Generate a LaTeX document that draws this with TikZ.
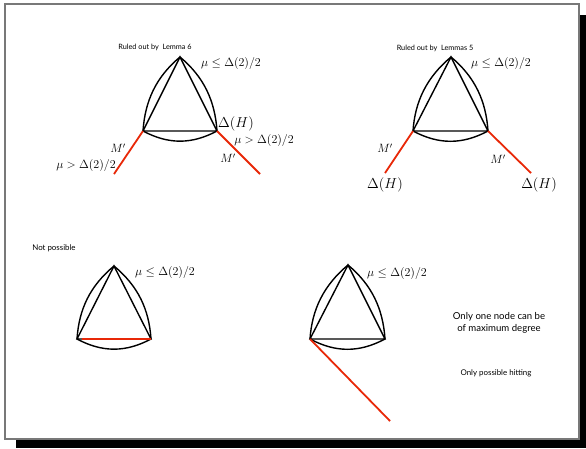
\documentclass[tikz,border=0pt]{standalone}
\usepackage{fontspec}
\newfontfamily\smallsans{Lato}
\definecolor{hitred}{RGB}{232,40,8}
\definecolor{framegray}{RGB}{120,120,120}
\begin{document}
\begin{tikzpicture}[x=1pt,y=-1pt,
  edge/.style={line width=1.4pt, black},
  bside/.style={edge, bend right=28},
  hit/.style={line width=1.8pt, hitred},
  mlab/.style={inner sep=0pt, font=\fontsize{12}{14}\selectfont},
  dlab/.style={inner sep=0pt, font=\fontsize{13.5}{15}\selectfont},
  title/.style={inner sep=0pt, font=\smallsans\fontsize{7.3}{8}\selectfont},
  note/.style={inner sep=0pt, font=\smallsans\fontsize{7.9}{9}\selectfont},
  bignote/.style={inner sep=0pt, align=center, font=\smallsans\fontsize{9.6}{12}\selectfont},
]
\useasboundingbox (0,0) rectangle (586,448);
\fill[black] (16,15) rectangle (586,448);
\filldraw[fill=white, draw=framegray, line width=1.1pt] (5,4) rectangle (579,439);

% ---------- top left ----------
\coordinate (a1) at (180,57);
\coordinate (l1) at (143,131);
\coordinate (r1) at (217,131);
\coordinate (e1l) at (114,174);
\coordinate (e1r) at (260,174);
\draw[edge] (a1) -- (l1) -- (r1) -- cycle;
\draw[edge] (a1) .. controls +(-24,20) and +(2,-30) .. (l1);
\draw[edge] (a1) .. controls +(24,20) and +(-2,-30) .. (r1);
\draw[bside] (l1) to (r1);
\draw[hit] (l1) -- (e1l);
\draw[hit] (r1) -- (e1r);
\node[title] (t1) at (155,47) {Ruled out by\ \ Lemma 6};
\node[mlab] (m1) at (231,63) {$\mu\le\Delta(2)/2$};
\node[dlab] (d1) at (236,124) {$\Delta(H)$};
\node[mlab] (g1r) at (264,140) {$\mu>\Delta(2)/2$};
\node[mlab] (p1r) at (228,158) {$M'$};
\node[mlab] (p1l) at (118,148) {$M'$};
\node[mlab] (g1l) at (86,165) {$\mu>\Delta(2)/2$};

% ---------- top right ----------
\coordinate (a2) at (451,57);
\coordinate (l2) at (413,131);
\coordinate (r2) at (488,131);
\coordinate (e2l) at (385,173);
\coordinate (e2r) at (531,173);
\draw[edge] (a2) -- (l2) -- (r2) -- cycle;
\draw[edge] (a2) .. controls +(-24,20) and +(2,-30) .. (l2);
\draw[edge] (a2) .. controls +(24,20) and +(-2,-30) .. (r2);
\draw[bside] (l2) to (r2);
\draw[hit] (l2) -- (e2l);
\draw[hit] (r2) -- (e2r);
\node[title] (t2) at (435,48) {Ruled out by\ \ Lemmas 5};
\node[mlab] (m2) at (501,63) {$\mu\le\Delta(2)/2$};
\node[mlab] (p2l) at (385,148) {$M'$};
\node[dlab] (d2l) at (385,185) {$\Delta(H)$};
\node[mlab] (p2r) at (498,159) {$M'$};
\node[dlab] (d2r) at (539,185) {$\Delta(H)$};

% ---------- bottom left ----------
\coordinate (a3) at (114,266);
\coordinate (l3) at (77,339);
\coordinate (r3) at (151,339);
\coordinate (h3) at (82,339);
\draw[edge] (a3) -- (l3) -- (r3) -- cycle;
\draw[edge] (a3) .. controls +(-24,20) and +(2,-30) .. (l3);
\draw[edge] (a3) .. controls +(24,20) and +(-2,-30) .. (r3);
\draw[bside] (l3) to (r3);
\draw[hit] (h3) -- (r3);
\node[note] (t3) at (54,248) {Not possible};
\node[mlab] (m3) at (165,272) {$\mu\le\Delta(2)/2$};

% ---------- bottom right ----------
\coordinate (a4) at (348,265);
\coordinate (l4) at (310,339);
\coordinate (r4) at (385,339);
\coordinate (e4) at (390,421);
\draw[edge] (a4) -- (l4) -- (r4) -- cycle;
\draw[edge] (a4) .. controls +(-24,20) and +(2,-30) .. (l4);
\draw[edge] (a4) .. controls +(24,20) and +(-2,-30) .. (r4);
\draw[bside] (l4) to (r4);
\draw[hit] (l4) -- (e4);
\node[mlab] (m4) at (397,273) {$\mu\le\Delta(2)/2$};
\node[bignote] (n4) at (499,323) {Only one node can be\\of maximum degree};
\node[note] (n5) at (496,373) {Only possible hitting};
\end{tikzpicture}
\end{document}
